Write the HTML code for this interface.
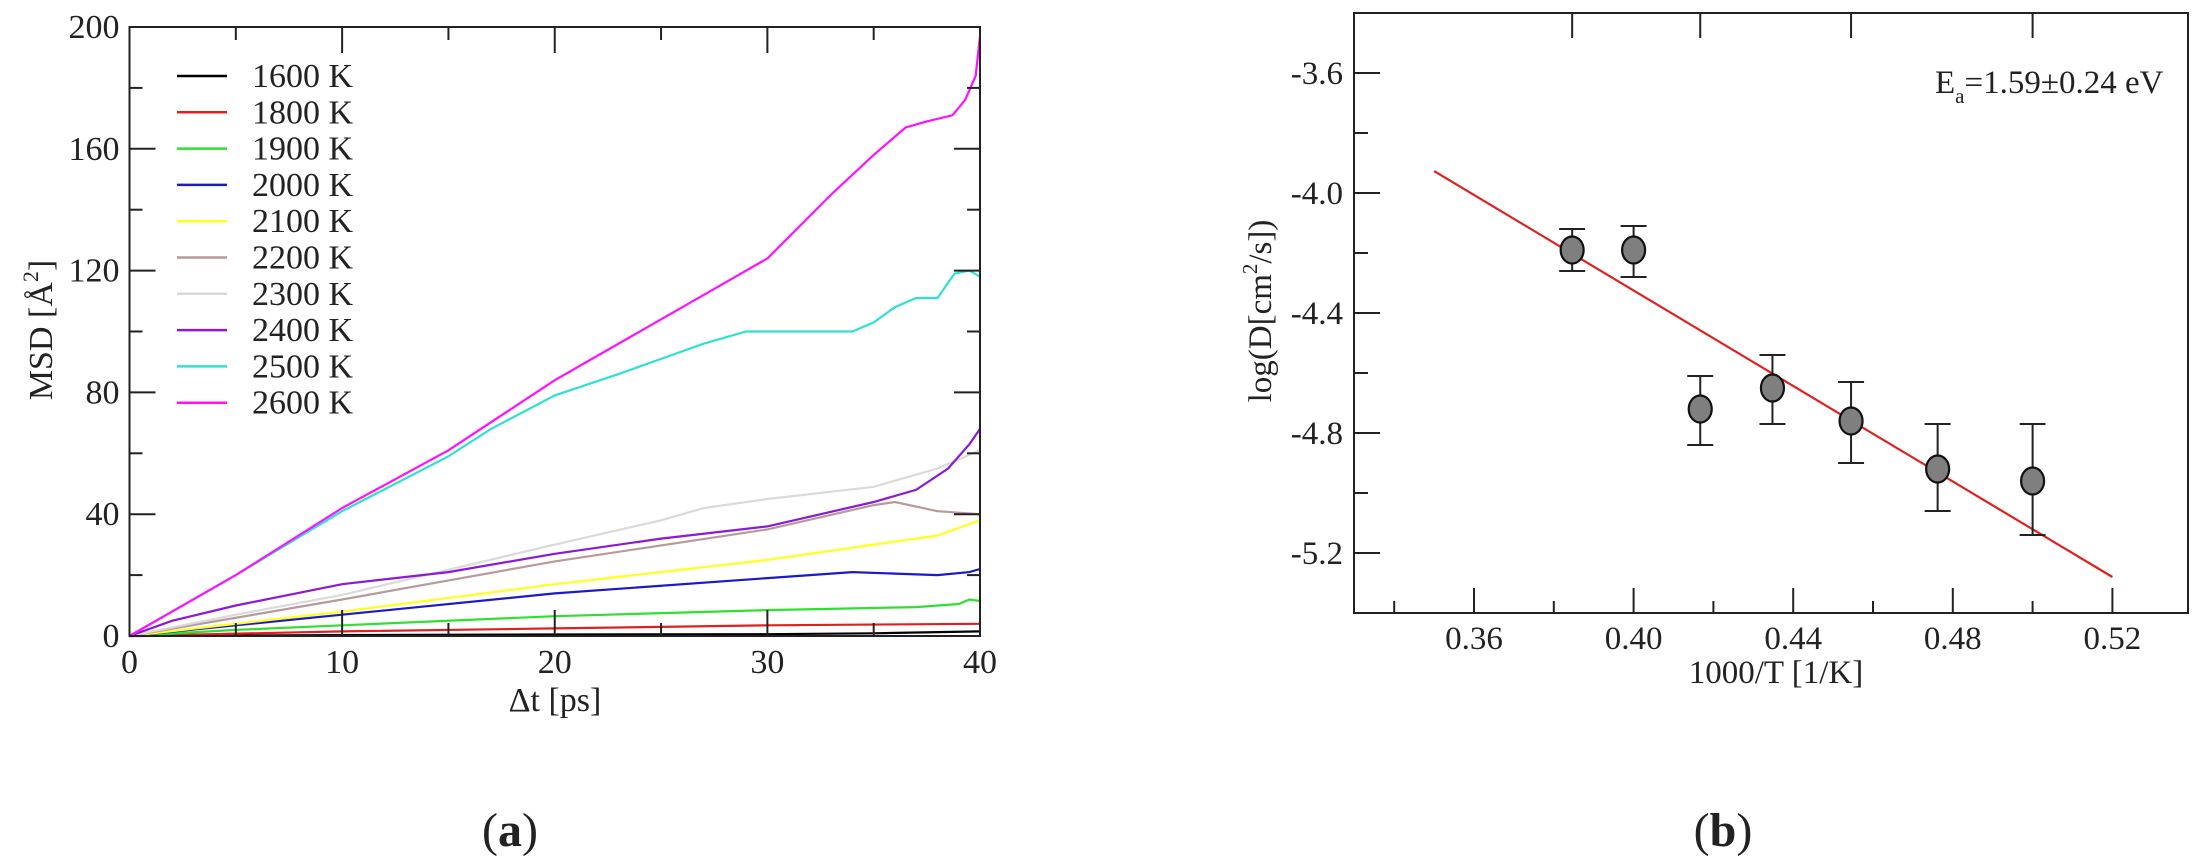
<!DOCTYPE html>
<html><head><meta charset="utf-8"><style>
html,body{margin:0;padding:0;background:#fff;}
svg{display:block;}
svg text{font-family:"Liberation Serif","DejaVu Serif",serif;fill:#222;}
</style></head><body>
<svg id="s" width="2203" height="865" viewBox="0 0 2203 865" xmlns="http://www.w3.org/2000/svg" font-family="Liberation Serif, serif">
<rect width="2203" height="865" fill="#fff"/>
<g id="left"></g>
<g id="right"></g>
<text x="510" y="846" font-size="48" text-anchor="middle">(<tspan font-weight="bold">a</tspan>)</text>
<text x="1723" y="846" font-size="48" text-anchor="middle">(<tspan font-weight="bold">b</tspan>)</text>
</svg>
<script>
var NS="http://www.w3.org/2000/svg";
function el(p,t,a,txt){var e=document.createElementNS(NS,t);for(var k in a)e.setAttribute(k,a[k]);if(t==='text')e.setAttribute('font-family','Liberation Serif, serif');if(txt!==undefined)e.textContent=txt;p.appendChild(e);return e;}
var L=document.getElementById('left'),R=document.getElementById('right');
var x0=129.5,x1=980,y0=636,y1=27;
function LX(t){return x0+t*(x1-x0)/40;}function LY(v){return y0-v*(y0-y1)/200;}
var series=[
["#000000",[[0,0],[10,0.3],[20,0.5],[30,0.6],[35,0.9],[40,1.5]]],
["#e02020",[[0,0],[10,1.5],[20,2.5],[30,3.5],[40,4]]],
["#30e030",[[0,0],[5,2],[10,3.5],[20,6.5],[30,8.5],[37,9.5],[39,10.5],[39.5,12],[40,11.5]]],
["#1a1ac8",[[0,0],[5,3.5],[10,7],[20,14],[30,19],[34,21],[36,20.5],[38,20],[39.5,21],[40,22]]],
["#ffff20",[[0,0],[10,8],[20,17],[30,25],[35,30],[38,33],[40,38]]],
["#b89a9a",[[0,0],[10,12],[20,24.5],[30,35],[35,43],[36,44],[38,41],[40,40]]],
["#dadada",[[0,0],[5,7],[10,13.5],[20,30],[25,38],[27,42],[30,45],[35,49],[38,55],[40,61]]],
["#8a1ad8",[[0,0],[2,5],[5,10],[10,17],[15,21],[20,27],[25,32],[30,36],[35,44],[37,48],[38.5,55],[39.5,63],[40,68]]],
["#30e0d0",[[0,0],[5,20],[10,41],[15,59],[17,68],[20,79],[23,86],[25,91],[27,96],[29,100],[32,100],[34,100],[35,103],[36,108],[37,111],[38,111],[38.8,119],[39.5,120],[40,118]]],
["#ff10ff",[[0,0],[5,20],[10,42],[15,61],[20,84],[25,104],[28,116],[30,124],[33,145],[35,158],[36.5,167],[37.5,169],[38.7,171],[39.3,176],[39.8,184],[40,197]]]
];
series.forEach(function(s){var pts=s[1].map(function(p){return LX(p[0]).toFixed(1)+","+LY(p[1]).toFixed(1);}).join(" ");
el(L,'polyline',{points:pts,fill:'none',stroke:s[0],'stroke-width':2.2});});
el(L,'rect',{x:x0,y:y1,width:x1-x0,height:y0-y1,fill:'none',stroke:'#222','stroke-width':2});
for(var v=0;v<=200;v+=20){var maj=v%40==0,len=maj?26:13;var y=LY(v);
el(L,'line',{x1:x0,y1:y,x2:x0+len,y2:y,stroke:'#222','stroke-width':2});
el(L,'line',{x1:x1,y1:y,x2:x1-len,y2:y,stroke:'#222','stroke-width':2});
if(maj)el(L,'text',{x:x0-10,y:y+11,'font-size':34,'text-anchor':'end'},String(v));}
for(var t=0;t<=40;t+=5){var maj=t%10==0,len=maj?26:13;var x=LX(t);
el(L,'line',{x1:x,y1:y0,x2:x,y2:y0-len,stroke:'#222','stroke-width':2});
el(L,'line',{x1:x,y1:y1,x2:x,y2:y1+len,stroke:'#222','stroke-width':2});
if(maj)el(L,'text',{x:x,y:673,'font-size':34,'text-anchor':'middle'},String(t));}
el(L,'text',{x:555,y:711,'font-size':34,'text-anchor':'middle'},"\u0394t [ps]");
var ml=el(L,'text',{x:0,y:0,'font-size':34,'text-anchor':'middle',transform:'translate(52,330) rotate(-90)'});
ml.innerHTML='MSD [Å<tspan dy="-14" font-size="22">2</tspan><tspan dy="14">]</tspan>';
var labs=["1600 K","1800 K","1900 K","2000 K","2100 K","2200 K","2300 K","2400 K","2500 K","2600 K"];
labs.forEach(function(l,i){var y=76+i*36.3;el(L,'line',{x1:177,y1:y,x2:227,y2:y,stroke:series[i][0],'stroke-width':2.5});
el(L,'text',{x:252,y:y+11,'font-size':34},l);});
var rx0=1354,rx1=2188,ry0=613,ry1=13;
function RX(v){return 1474+(v-0.36)*3990;}function RY(y){return 13+(-3.4-y)*300;}
el(R,'line',{x1:RX(0.35),y1:RY(-3.927),x2:RX(0.52),y2:RY(-5.28),stroke:'#e02020','stroke-width':2.2});
var pts=[[0.3846,-4.19,-4.12,-4.26],[0.4,-4.19,-4.11,-4.28],[0.4167,-4.72,-4.61,-4.84],[0.4348,-4.65,-4.54,-4.77],[0.4545,-4.76,-4.63,-4.9],[0.4762,-4.92,-4.77,-5.06],[0.5,-4.96,-4.77,-5.14]];
pts.forEach(function(p){var x=RX(p[0]);var a=RY(p[2]),b=RY(p[3]);
el(R,'line',{x1:x,y1:a,x2:x,y2:b,stroke:'#222','stroke-width':2});
el(R,'line',{x1:x-13,y1:a,x2:x+13,y2:a,stroke:'#222','stroke-width':2});
el(R,'line',{x1:x-13,y1:b,x2:x+13,y2:b,stroke:'#222','stroke-width':2});
el(R,'ellipse',{cx:x,cy:RY(p[1]),rx:11.5,ry:13.5,fill:'#7f7f7f',stroke:'#111','stroke-width':2.2});});
el(R,'rect',{x:rx0,y:ry1,width:rx1-rx0,height:ry0-ry1,fill:'none',stroke:'#222','stroke-width':2});
for(var i=0;i<=9;i++){var v=-3.6-i*0.2;var y=RY(v);if(y>ry0-2)break;var maj=i%2==0;
el(R,'line',{x1:rx0,y1:y,x2:rx0+(maj?26:14),y2:y,stroke:'#222','stroke-width':2});
if(maj)el(R,'text',{x:rx0-11,y:y+11,'font-size':33,'text-anchor':'end'},v.toFixed(1));}
for(var i=0;i<=10;i++){var v=0.34+i*0.02;var x=RX(v);if(x>rx1-2)break;var maj=i%2==1;
el(R,'line',{x1:x,y1:ry0,x2:x,y2:ry0-(maj?25:12),stroke:'#222','stroke-width':2});
if(maj)el(R,'text',{x:x,y:649,'font-size':33,'text-anchor':'middle'},v.toFixed(2));}
[0.3846,0.4167,0.4545,0.5].forEach(function(v){var x=RX(v);el(R,'line',{x1:x,y1:ry1,x2:x,y2:ry1+25,stroke:'#222','stroke-width':2});});
el(R,'text',{x:1776,y:683,'font-size':33,'text-anchor':'middle'},"1000/T [1/K]");
var yl=el(R,'text',{x:0,y:0,'font-size':33,'text-anchor':'middle',transform:'translate(1271,311) rotate(-90)'});
yl.innerHTML='log(D[cm<tspan dy="-14" font-size="21">2</tspan><tspan dy="14">/s])</tspan>';
var ea=el(R,'text',{x:1935,y:93,'font-size':33});
ea.innerHTML='E<tspan dy="10" font-size="21">a</tspan><tspan dy="-10">=1.59±0.24 eV</tspan>';
</script>
</body></html>
